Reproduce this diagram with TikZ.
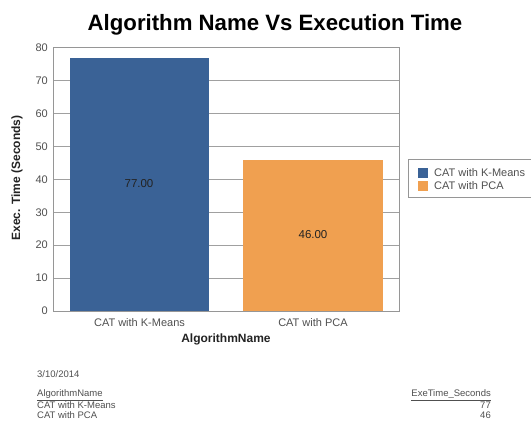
\documentclass[tikz,border=0pt]{standalone}
\usepackage{fontspec}
\setmainfont{Liberation Sans}
\definecolor{barblue}{RGB}{58,98,150}
\definecolor{barorange}{RGB}{240,160,80}
\definecolor{framegray}{RGB}{150,150,150}
\definecolor{gridgray}{RGB}{160,160,160}
\definecolor{ticktext}{RGB}{80,80,80}
\definecolor{labtext}{RGB}{35,35,35}
\begin{document}
\begin{tikzpicture}[x=1pt,y=-1pt,
  tick/.style={font=\fontsize{11}{12}\selectfont,text=ticktext,inner sep=0pt},
  axtitle/.style={font=\fontsize{12}{13}\selectfont\bfseries,text=labtext,inner sep=0pt},
  vallab/.style={font=\fontsize{11.5}{12}\selectfont,text=labtext,inner sep=0pt},
  legtext/.style={font=\fontsize{11}{12}\selectfont,text=ticktext,inner sep=0pt,anchor=west},
  small/.style={font=\fontsize{9.5}{10}\selectfont,text=ticktext,inner sep=0pt},
  gridline/.style={draw=gridgray,line width=0.9pt},
]
\useasboundingbox (0,0) rectangle (531,421);
\fill[white] (0,0) rectangle (531,421);
% title
\node[font=\fontsize{22.2}{24}\selectfont\bfseries,text=black,inner sep=0pt] (title) at (275,25) {Algorithm Name Vs Execution Time};
% grid lines
\foreach \v in {10,20,...,70}{
  \draw[gridline] (53,{311-3.29*\v}) -- (399,{311-3.29*\v});
  \node[tick,anchor=east] (t\v) at (48,{311-3.29*\v}) {\v};
}
\node[tick,anchor=east] (t0) at (48,311) {0};
\node[tick,anchor=east] (t80) at (48,47.8) {80};
% bars
\node[draw=none,fill=barblue,minimum width=139pt,minimum height=253.3pt,inner sep=0pt] (bar1) at (139.5,184.35) {};
\node[draw=none,fill=barorange,minimum width=140pt,minimum height=151.3pt,inner sep=0pt] (bar2) at (313,235.35) {};
\node[vallab] (v1) at (139,184) {77.00};
\node[vallab] (v2) at (313,235) {46.00};
% frame
\draw[framegray,line width=1pt] (53,47.8) rectangle (399,311);
% x labels
\node[tick] (x1) at (139.5,323) {CAT with K-Means};
\node[tick] (x2) at (313,323) {CAT with PCA};
\node[axtitle] (xt) at (226,339) {AlgorithmName};
\node[axtitle,rotate=90] (yt) at (17,178) {Exec. Time (Seconds)};
% legend
\draw[framegray,line width=0.8pt] (531,159) -- (408,159) -- (408,197) -- (531,197);
\node[fill=barblue,minimum size=10pt,inner sep=0pt] (lb) at (423,173) {};
\node[fill=barorange,minimum size=10pt,inner sep=0pt] (lo) at (423,185.5) {};
\node[legtext] (l1) at (434,173) {CAT with K-Means};
\node[legtext] (l2) at (434,185.5) {CAT with PCA};
% bottom table
\node[small,anchor=west] (date) at (37,374) {3/10/2014};
\node[small,anchor=west] (h1) at (37,395) {\underline{AlgorithmName}};
\node[small,anchor=west] (r1) at (37,405.5) {CAT with K-Means};
\node[small,anchor=west] (r2) at (37,415) {CAT with PCA};
\node[small,anchor=east] (h2) at (491,395) {\underline{ExeTime\_Seconds}};
\node[small,anchor=east] (r1v) at (491,405.5) {77};
\node[small,anchor=east] (r2v) at (491,415) {46};
\end{tikzpicture}
\end{document}
